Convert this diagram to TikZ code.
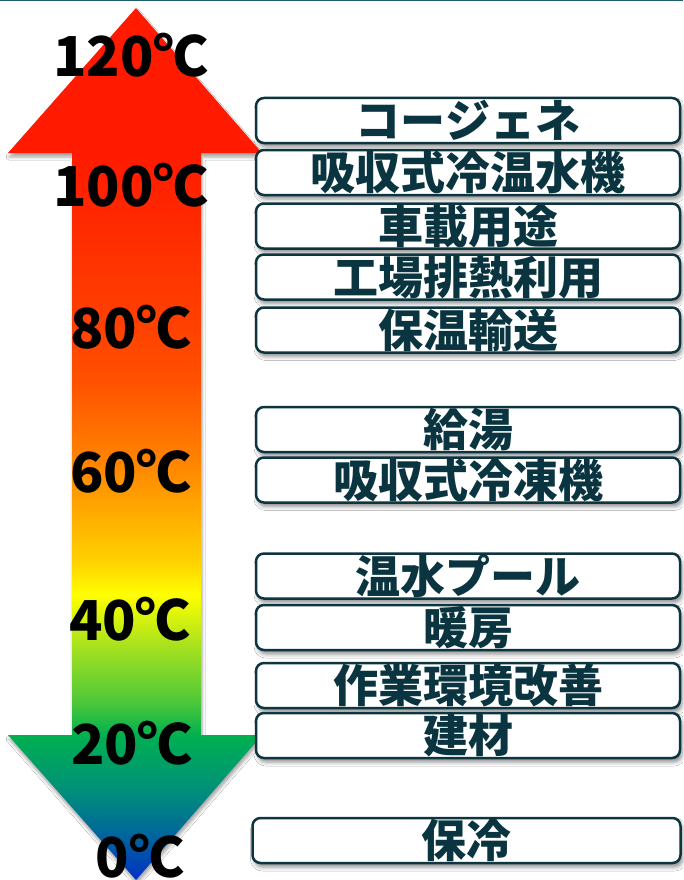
\documentclass[tikz,border=0pt]{standalone}
\usepackage{fontspec}
\setmainfont{Noto Sans}
\newfontfamily\cjk{Noto Sans CJK JP}
\usetikzlibrary{shadows.blur}
\definecolor{boxline}{HTML}{0D3540}
\definecolor{boxtext}{HTML}{0A3540}
\definecolor{topline}{HTML}{1A5F6A}
\definecolor{gA}{HTML}{0030C8}
\definecolor{gB}{HTML}{0060A0}
\definecolor{gC}{HTML}{00907A}
\definecolor{gD}{HTML}{00B050}
\definecolor{gE}{HTML}{50C838}
\definecolor{gF}{HTML}{A0E020}
\definecolor{gG}{HTML}{FFFF00}
\definecolor{gH}{HTML}{FFD000}
\definecolor{gI}{HTML}{FF8A00}
\definecolor{gJ}{HTML}{FF5000}
\definecolor{gK}{HTML}{FF4200}
\definecolor{gL}{HTML}{FF1A00}
\pgfdeclareverticalshading{arrowgrad}{100bp}{%
color(0bp)=(gA); color(25bp)=(gA); color(27.3bp)=(gB); color(30.15bp)=(gC);
color(33.3bp)=(gD); color(35.3bp)=(gE); color(38.2bp)=(gF); color(41.35bp)=(gG);
color(43.35bp)=(gH); color(48.5bp)=(gI); color(53.65bp)=(gJ); color(56.55bp)=(gK);
color(66.7bp)=(gL); color(75bp)=(gL); color(100bp)=(gL)}
\tikzset{
  usebox/.style={draw=boxline, line width=2.5pt, fill=white, rounded corners=8pt,
    minimum width=424pt, minimum height=45pt, inner sep=0pt,
    text height=39.5pt, text depth=5.5pt,
    font=\cjk\bfseries\fontsize{45pt}{45pt}\selectfont, text=boxtext,
    blur shadow={shadow xshift=2pt, shadow yshift=-4pt, shadow blur radius=4pt, shadow opacity=45}},
  temp/.style={anchor=base, inner sep=0pt, font=\cjk\bfseries\fontsize{55pt}{55pt}\selectfont, text=black}
}
\begin{document}
\begin{tikzpicture}[x=1pt,y=-1pt]
\useasboundingbox (0,0) rectangle (683,880);
\fill[white] (0,0) rectangle (683,880);
\draw[topline, line width=1.5pt] (0,0.75) -- (683,0.75);
% double arrow
\shade[shading=arrowgrad, blur shadow={shadow xshift=1pt, shadow yshift=-4pt, shadow blur radius=3pt, shadow opacity=35}]
  (136,8) -- (262,153) -- (201,153) -- (201,735) -- (262,735) -- (136,880)
  -- (8,735) -- (72,735) -- (72,153) -- (8,153) -- cycle;
% temperatures
\node[temp] (t120) at (131,77) {120℃};
\node[temp] (t100) at (131,206) {100℃};
\node[temp] (t80) at (131,348) {80℃};
\node[temp] (t60) at (131,492) {60℃};
\node[temp] (t40) at (130,640) {40℃};
\node[temp] (t20) at (132,764) {20℃};
\node[temp] (t0) at (140,877) {0℃};
% uses
\node[usebox] (b1) at (468,120.5) {コージェネ};
\node[usebox] (b2) at (468,172.5) {吸収式冷温水機};
\node[usebox] (b3) at (468,226) {車載用途};
\node[usebox] (b4) at (468,277) {工場排熱利用};
\node[usebox] (b5) at (468,330) {保温輸送};
\node[usebox] (b6) at (468,429.5) {給湯};
\node[usebox] (b7) at (468,480) {吸収式冷凍機};
\node[usebox] (b8) at (468,576) {温水プール};
\node[usebox] (b9) at (468,627.5) {暖房};
\node[usebox] (b10) at (468,685.5) {作業環境改善};
\node[usebox] (b11) at (468,735.5) {建材};
\node[usebox, minimum width=428pt] (b12) at (466.5,840.5) {保冷};
\end{tikzpicture}
\end{document}
